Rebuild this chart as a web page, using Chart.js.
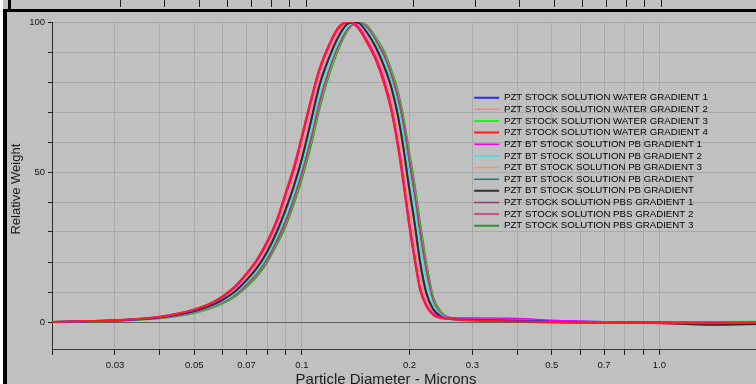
<!DOCTYPE html>
<html>
<head>
<meta charset="utf-8">
<script src="https://cdn.jsdelivr.net/npm/chart.js@4.4.1/dist/chart.umd.min.js"></script>
<style>
  html, body { margin: 0; padding: 0; }
  body { width: 756px; height: 384px; overflow: hidden; background: #c0c0c0; position: relative; }
  canvas { position: absolute; left: 0; top: 0; }
  .edge { position: absolute; background: #000; }
</style>
</head>
<body>
<canvas id="strip" width="768" height="9"></canvas>
<canvas id="plot" width="772" height="392"></canvas>
<div class="edge" style="left:0;top:0;width:3px;height:384px;background:#fff"></div>
<div class="edge" style="left:8px;top:0;width:3px;height:9px"></div>
<div class="edge" style="left:3px;top:9px;width:4px;height:375px"></div>
<div class="edge" style="left:3px;top:9px;width:753px;height:3px"></div>
<script>
// particle diameter (microns), shared by every run
const diameters = [0.02, 0.025, 0.03, 0.035, 0.04, 0.045, 0.05, 0.055, 0.06, 0.065, 0.07, 0.075, 0.08, 0.085, 0.09, 0.095,
    0.1, 0.106, 0.112, 0.119, 0.127, 0.135, 0.143, 0.152, 0.161, 0.17, 0.178, 0.185, 0.192, 0.199, 0.206, 0.214, 0.223, 0.233, 0.245,
    0.26, 0.28, 0.32, 0.4, 0.5, 0.7, 1.0, 1.4, 2.0];

// relative weight per run
const water1 = [0, 0.25, 0.57, 1.0, 1.7, 2.75, 4.1, 5.9, 8.4, 11.7, 16.0, 20.7, 26.6, 33.5, 42.5, 51.1, 61.4, 73.6, 84.0, 92.0, 98.2, 100, 98.5, 93.7, 87.9, 80.0, 71.0, 60.3, 47.7, 34.0, 22.5, 11.2, 5.5, 2.5, 1.45,
    1.0, 0.8, 0.7, 0.5, 0.3, 0.0, -0.1, -0.2, -0.1];
const water2 = [0, 0.22, 0.54, 0.95, 1.6, 2.6, 3.9, 5.6, 7.9, 11.0, 15.0, 19.5, 25.0, 31.8, 40.0, 48.3, 58.0, 70.3, 81.5, 90.0, 97.0, 99.9, 99.2, 95.0, 89.7, 82.5, 74.5, 64.9, 52.1, 39.8, 27.2, 15.4, 7.5, 3.3, 1.7,
    1.1, 0.9, 0.8, 0.6, 0.4, 0.1, 0.0, -0.2, -0.1];
const water3 = [0, 0.15, 0.45, 0.8, 1.3, 2.1, 3.1, 4.6, 6.5, 8.9, 12.3, 16.0, 20.7, 26.6, 32.8, 40.5, 48.9, 60.0, 72.3, 83.0, 92.0, 97.8, 100, 98.5, 94.3, 89.4, 83.0, 76.6, 67.7, 56.3, 45.5, 31.7, 18.3, 7.4, 3.1,
    1.2, 0.9, 0.6, 0.3, 0.2, 0.0, 0.0, 0.0, 0.1];
const water4 = [0, 0.3, 0.6, 1.05, 1.75, 2.8, 4.2, 6.0, 8.6, 11.9, 16.2, 21.0, 27.0, 34.0, 43.0, 51.8, 62.0, 74.2, 84.5, 92.4, 98.5, 100, 98.2, 93.2, 87.3, 79.2, 70.2, 59.4, 46.8, 33.2, 21.8, 10.8, 5.2, 2.3, 1.3,
    1.0, 0.7, 0.4, 0.2, 0.0, -0.3, -0.3, -0.4, -0.2];
const pb1 = [0, 0.25, 0.55, 1.0, 1.65, 2.7, 4.0, 5.8, 8.3, 11.5, 15.8, 20.5, 26.3, 33.2, 42.0, 50.6, 61.0, 73.2, 83.7, 91.8, 98.0, 100, 98.7, 94.0, 88.3, 80.6, 71.6, 61.0, 48.4, 34.8, 23.2, 11.8, 5.9, 2.8, 1.7,
    1.5, 1.3, 1.3, 1.2, 0.6, 0.1, -0.1, -0.2, -0.1];
const pb2 = [0, 0.18, 0.48, 0.85, 1.4, 2.25, 3.35, 4.9, 6.95, 9.55, 13.2, 17.1, 22.1, 28.3, 35.2, 43.0, 51.7, 63.5, 75.7, 85.5, 93.8, 98.7, 99.9, 97.5, 92.9, 87.2, 80.5, 73.1, 63.1, 50.9, 39.8, 25.9, 13.9, 5.8, 2.5,
    1.3, 1.0, 0.8, 0.6, 0.4, 0.1, 0.0, 0.0, 0.0];
const pb3 = [0, 0.2, 0.5, 0.92, 1.52, 2.45, 3.65, 5.3, 7.5, 10.4, 14.2, 18.5, 23.8, 30.4, 38.0, 46.0, 55.0, 67.5, 79.4, 88.3, 95.7, 99.7, 99.7, 96.2, 91.0, 84.4, 77.2, 68.6, 57.4, 44.4, 32.8, 19.0, 8.9, 3.9, 1.8,
    1.2, 0.9, 0.6, 0.4, 0.2, 0.0, -0.1, -0.1, 0.0];
const pbA = [0, 0.2, 0.49, 0.88, 1.48, 2.38, 3.55, 5.1, 7.3, 10.0, 13.8, 17.9, 23.1, 29.5, 36.9, 44.8, 53.8, 66.3, 78.4, 87.6, 95.2, 99.5, 99.9, 96.8, 91.9, 85.5, 78.6, 70.3, 59.4, 46.5, 35.0, 21.0, 10.1, 4.5, 2.0,
    1.2, 0.9, 0.6, 0.3, 0.1, 0.0, 0.0, -0.1, 0.0];
const pbB = [0, 0.2, 0.5, 0.9, 1.5, 2.4, 3.6, 5.2, 7.4, 10.2, 14.0, 18.2, 23.5, 30.0, 37.5, 45.5, 54.5, 67.0, 79.0, 88.0, 95.5, 99.6, 99.8, 96.5, 91.5, 85.0, 78.0, 69.5, 58.5, 45.5, 34.0, 20.0, 9.5, 4.2, 1.9,
    1.1, 0.8, 0.5, 0.2, 0.0, -0.1, -0.3, -0.9, -0.6];
const pbs1 = [0, 0.16, 0.46, 0.82, 1.33, 2.15, 3.2, 4.7, 6.7, 9.2, 12.6, 16.5, 21.3, 27.4, 33.8, 41.6, 50.2, 61.4, 73.6, 84.0, 92.6, 98.1, 99.9, 98.1, 93.6, 88.4, 81.8, 75.0, 65.8, 54.2, 43.2, 29.5, 16.7, 6.6, 2.9,
    1.3, 0.9, 0.5, 0.1, -0.2, -0.3, -0.4, -0.5, -0.2];
const pbs2 = [0, 0.15, 0.45, 0.8, 1.3, 2.1, 3.15, 4.65, 6.6, 9.0, 12.4, 16.2, 20.9, 26.9, 33.2, 41.0, 49.5, 60.7, 73.0, 83.6, 92.4, 98.0, 100, 98.3, 94.0, 89.0, 82.5, 76.0, 67.0, 55.5, 44.6, 30.8, 17.6, 7.0, 3.0,
    1.4, 1.0, 0.6, 0.3, 0.1, -0.2, -0.5, -0.8, -0.6];
const pbs3 = [0, 0.14, 0.43, 0.77, 1.25, 2.0, 3.0, 4.4, 6.2, 8.5, 11.8, 15.4, 20.0, 25.8, 31.9, 39.5, 47.8, 58.8, 71.2, 82.2, 91.4, 97.5, 100, 98.8, 94.8, 90.0, 83.8, 77.5, 68.8, 57.6, 46.9, 33.2, 19.6, 8.2, 3.4,
    1.3, 1.0, 0.5, 0.1, -0.1, 0.0, 0.0, 0.0, 0.0];

const runNames = [
    'PZT STOCK SOLUTION WATER GRADIENT 1',
    'PZT STOCK SOLUTION WATER GRADIENT 2',
    'PZT STOCK SOLUTION WATER GRADIENT 3',
    'PZT STOCK SOLUTION WATER GRADIENT 4',
    'PZT BT STOCK SOLUTION PB GRADIENT 1',
    'PZT BT STOCK SOLUTION PB GRADIENT 2',
    'PZT BT STOCK SOLUTION PB GRADIENT 3',
    'PZT BT STOCK SOLUTION PB GRADIENT',
    'PZT BT STOCK SOLUTION PB GRADIENT',
    'PZT STOCK SOLUTION PBS GRADIENT 1',
    'PZT STOCK SOLUTION PBS GRADIENT 2',
    'PZT STOCK SOLUTION PBS GRADIENT 3'
];
const runValues = [water1, water2, water3, water4, pb1, pb2, pb3, pbA, pbB, pbs1, pbs2, pbs3];
const runColors = ['#2a2af2', '#ff8282', '#22f022', '#ff1c1c', '#f000f0', '#3ae0e0', '#f49458', '#0a8080', '#2e2e2e', '#84406a', '#f01a80', '#2f8f36'];
const runWidths = [2, 1.5, 2, 2, 1.5, 1.5, 1.5, 1.5, 2, 1.5, 1.5, 2];
const runDrawOrder = [2, 9, 6, 0, 1, 4, 10, 8, 3, 11, 5, 7]; // lower = drawn on top

// axis ticks
const xTickValues = [0.02, 0.03, 0.04, 0.05, 0.06, 0.07, 0.08, 0.09, 0.1, 0.2, 0.3, 0.4, 0.5, 0.6, 0.7, 0.8, 0.9, 1.0, 2.0];
const xTickLabels = ['', '0.03', '', '0.05', '', '0.07', '', '', '0.1', '0.2', '0.3', '', '0.5', '', '0.7', '', '', '1.0', ''];
const yTickValues = [0, 10, 20, 30, 40, 50, 60, 70, 80, 90, 100];
const yTickLabels = ['0', '', '', '', '', '50', '', '', '', '', '100'];
// ticks of the panel above, cut off at the top edge
const stripTickValues = [0.03, 0.04, 0.05, 0.06, 0.07, 0.08, 0.09, 0.1, 0.2, 0.3, 0.4, 0.5, 0.6, 0.7, 0.8, 0.9, 1.0];

const FONT = '"Liberation Sans", Arial, sans-serif';
Chart.defaults.font.family = FONT;
Chart.defaults.color = '#141414';

// put the legend inside the plot, to the right of the peak
const legendSpot = {
    id: 'legendSpot',
    afterLayout(chart) {
        const lg = chart.legend;
        if (!lg) return;
        const w = lg.width, h = lg.height;
        lg.left = 472.2;
        lg.top = 90.9;
        lg.right = lg.left + w;
        lg.bottom = lg.top + h;
    }
};

// --- strip of the panel above ---
new Chart(document.getElementById('strip'), {
    type: 'line',
    data: { labels: [], datasets: [] },
    options: {
        responsive: false,
        animation: false,
        layout: { padding: { left: 58, right: 0, top: 0, bottom: 0 } },
        plugins: { legend: { display: false }, tooltip: { enabled: false } },
        scales: {
            x: {
                type: 'logarithmic',
                position: 'top',
                min: 0.02,
                max: 2.0,
                afterBuildTicks: s => { s.ticks = stripTickValues.map(v => ({ value: v })); },
                afterFit: s => { s.height = 7; },
                grid: { drawOnChartArea: false, tickLength: 7, tickColor: '#1e1e1e' },
                border: { display: false },
                ticks: { display: false }
            },
            y: { display: false }
        }
    }
});

// --- main chart ---
new Chart(document.getElementById('plot'), {
    type: 'line',
    data: {
        labels: diameters,
        datasets: runValues.map((vals, i) => ({
            label: runNames[i],
            data: vals,
            borderColor: runColors[i],
            backgroundColor: runColors[i],
            borderWidth: runWidths[i],
            order: runDrawOrder[i],
            pointRadius: 0,
            cubicInterpolationMode: 'monotone',
            fill: false
        }))
    },
    options: {
        responsive: false,
        animation: false,
        layout: { padding: { top: 22, bottom: 3, left: 0, right: 0 } },
        plugins: {
            legend: {
                position: 'chartArea',
                align: 'start',
                labels: {
                    boxWidth: 25,
                    boxHeight: 0,
                    padding: 1.94,
                    color: '#1c1c1c',
                    font: { size: 9.7 },
                    generateLabels: chart => chart.data.datasets.map((ds, i) => ({
                        text: ds.label,
                        fillStyle: ds.borderColor,
                        strokeStyle: ds.borderColor,
                        lineWidth: ds.borderWidth,
                        hidden: false,
                        datasetIndex: i
                    }))
                }
            },
            title: {
                display: true,
                position: 'bottom',
                text: 'Particle Diameter - Microns',
                color: '#1c1c1c',
                font: { size: 15, weight: 'normal' },
                padding: 0
            },
            tooltip: { enabled: false }
        },
        scales: {
            x: {
                type: 'logarithmic',
                min: 0.02,
                max: 2.06,
                afterBuildTicks: s => { s.ticks = xTickValues.map(v => ({ value: v })); },
                afterFit: s => { s.height = 22; },
                grid: { color: '#a9a9a9', tickColor: '#1e1e1e', tickLength: 6 },
                border: { color: '#3c3c3c' },
                ticks: {
                    autoSkip: false,
                    maxRotation: 0,
                    padding: 5,
                    color: '#141414',
                    font: { size: 9.5 },
                    callback: (v, i) => xTickLabels[i]
                }
            },
            y: {
                min: -9,
                max: 100,
                afterBuildTicks: s => { s.ticks = yTickValues.map(v => ({ value: v })); },
                afterFit: s => { s.width = 52; },
                grid: {
                    color: c => (c.tick && c.tick.value === 0) ? '#5e5e5e' : '#a9a9a9',
                    tickColor: '#1e1e1e',
                    tickLength: 4
                },
                border: { color: '#2e2e2e' },
                ticks: {
                    padding: 3,
                    color: '#141414',
                    font: { size: 9.5 },
                    callback: (v, i) => yTickLabels[i]
                },
                title: {
                    display: true,
                    text: 'Relative Weight  ',
                    color: '#1c1c1c',
                    font: { size: 13 },
                    padding: { top: 9, bottom: 0 }
                }
            }
        }
    },
    plugins: [legendSpot]
});
</script>
</body>
</html>
